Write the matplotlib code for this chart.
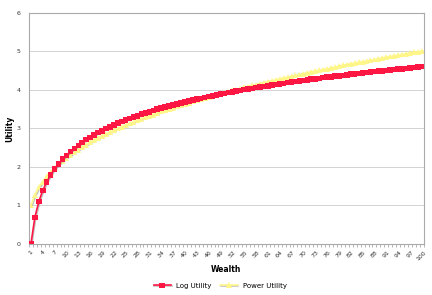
import matplotlib
matplotlib.use("Agg")
import matplotlib.pyplot as plt
import matplotlib.patheffects as pe

wealth = list(range(1, 101))
log_utility = [0.00, 0.69, 1.10, 1.39, 1.61, 1.79, 1.95, 2.08, 2.20, 2.30,
               2.40, 2.48, 2.56, 2.64, 2.71, 2.77, 2.83, 2.89, 2.94, 3.00,
               3.04, 3.09, 3.14, 3.18, 3.22, 3.26, 3.30, 3.33, 3.37, 3.40,
               3.43, 3.47, 3.50, 3.53, 3.56, 3.58, 3.61, 3.64, 3.66, 3.69,
               3.71, 3.74, 3.76, 3.78, 3.81, 3.83, 3.85, 3.87, 3.89, 3.91,
               3.93, 3.95, 3.97, 3.99, 4.01, 4.03, 4.04, 4.06, 4.08, 4.09,
               4.11, 4.13, 4.14, 4.16, 4.17, 4.19, 4.20, 4.22, 4.23, 4.25,
               4.26, 4.28, 4.29, 4.30, 4.32, 4.33, 4.34, 4.36, 4.37, 4.38,
               4.39, 4.41, 4.42, 4.43, 4.44, 4.45, 4.47, 4.48, 4.49, 4.50,
               4.51, 4.52, 4.53, 4.54, 4.55, 4.56, 4.57, 4.58, 4.60, 4.61]
power_utility = [1.00, 1.27, 1.47, 1.62, 1.76, 1.87, 1.98, 2.07, 2.16, 2.24,
                 2.31, 2.39, 2.45, 2.52, 2.58, 2.64, 2.70, 2.75, 2.80, 2.85,
                 2.90, 2.95, 3.00, 3.04, 3.09, 3.13, 3.17, 3.21, 3.25, 3.29,
                 3.33, 3.36, 3.40, 3.44, 3.47, 3.50, 3.54, 3.57, 3.61, 3.64,
                 3.67, 3.70, 3.73, 3.76, 3.79, 3.82, 3.85, 3.88, 3.90, 3.93,
                 3.96, 3.99, 4.01, 4.04, 4.07, 4.09, 4.12, 4.14, 4.17, 4.19,
                 4.22, 4.24, 4.26, 4.29, 4.31, 4.33, 4.36, 4.38, 4.40, 4.42,
                 4.45, 4.47, 4.49, 4.51, 4.53, 4.55, 4.57, 4.59, 4.62, 4.64,
                 4.66, 4.68, 4.70, 4.72, 4.73, 4.75, 4.77, 4.79, 4.81, 4.83,
                 4.85, 4.87, 4.89, 4.90, 4.92, 4.94, 4.96, 4.98, 4.99, 5.01]
y_ticks = [0, 1, 2, 3, 4, 5, 6]

fig = plt.figure(figsize=(4.32, 2.95), dpi=100)
ax = fig.add_axes([0.067, 0.173, 0.914, 0.783])

x = list(range(len(wealth)))
shadow = [pe.SimpleLineShadow(offset=(0.6, -0.8), shadow_color="#888888", alpha=0.5), pe.Normal()]
ax.plot(x, log_utility, color="#FF1744", lw=1.2, marker="s", ms=4.0, mew=0,
        label="Log Utility", zorder=3, path_effects=shadow)
ax.plot(x, power_utility, color="#FFF68A", lw=1.2, marker="^", ms=4.2, mew=0,
        label="Power Utility", zorder=2, path_effects=shadow)

ax.set_xlim(-0.5, len(wealth) - 0.5)
ax.set_ylim(0, 6)
ax.set_yticks(y_ticks)
ax.set_yticklabels([str(v) for v in y_ticks], fontsize=4.5, color="#333333")
ax.yaxis.grid(True, color="#cccccc", lw=0.6)
ax.set_axisbelow(True)
ax.tick_params(axis="y", length=0, pad=6)

ax.set_xticks([i - 0.5 for i in range(len(wealth) + 1)], minor=True)
ax.set_xticks(x[::3])
ax.set_xticklabels([str(w) for w in wealth[::3]], rotation=45, fontsize=4.5,
                   ha="center", va="top", color="#333333")
ax.tick_params(axis="x", which="major", length=0, pad=4)
ax.tick_params(axis="x", which="minor", length=2, color="#999999", width=0.5)

for s in ax.spines.values():
    s.set_color("#aaaaaa")
    s.set_linewidth(0.8)

ax.set_xlabel("Wealth", fontsize=5.5, fontweight="bold", labelpad=3)
ax.set_ylabel("Utility", fontsize=5.5, fontweight="bold", labelpad=2)

fig.legend(loc="lower center", bbox_to_anchor=(0.51, 0.0), ncol=2, frameon=False,
           fontsize=5, handlelength=2.5, columnspacing=1.2)

fig.savefig("out.png", dpi=100)
